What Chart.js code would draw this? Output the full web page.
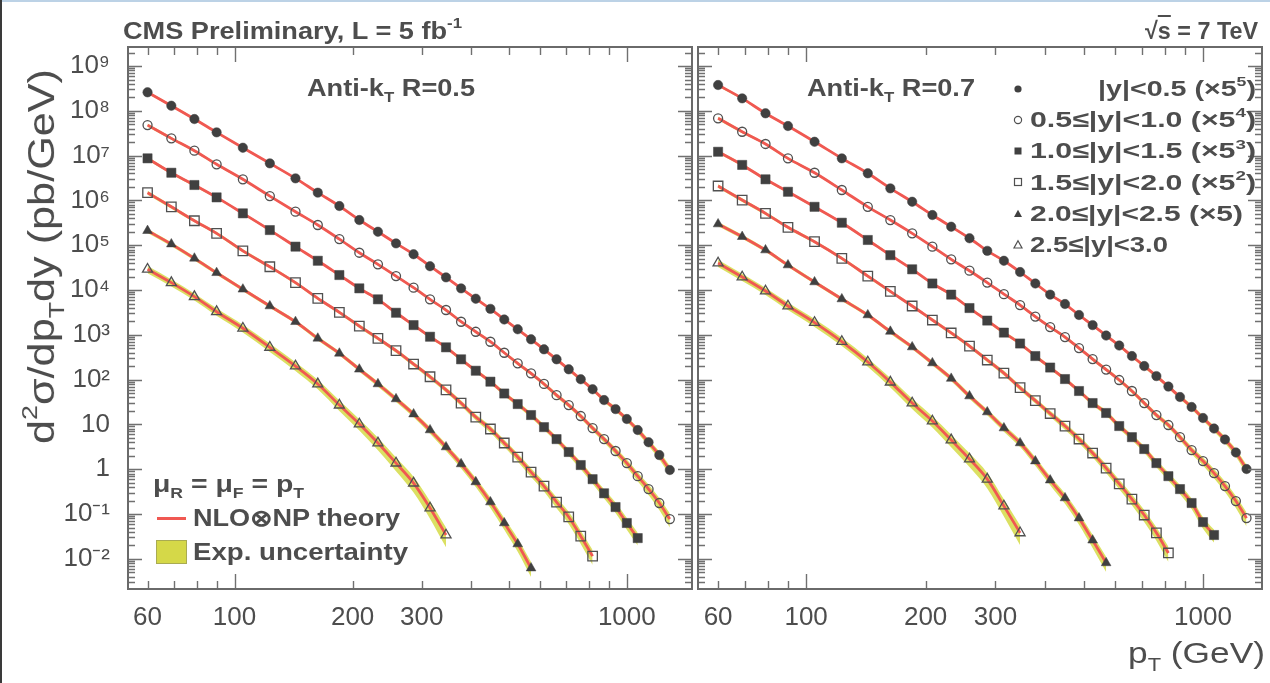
<!DOCTYPE html>
<html>
<head>
<meta charset="utf-8">
<title>Inclusive jet cross section, CMS 7 TeV</title>
<script src="https://cdn.jsdelivr.net/npm/chart.js@4.4.1/dist/chart.umd.min.js"></script>
<style>
  html, body { margin: 0; padding: 0; background: #fff; }
  #page { position: relative; width: 1270px; height: 683px; overflow: hidden; background: #fff;
          font-family: 'Liberation Sans', Arial, Helvetica, sans-serif; color: #4d4d4d; }
  #page canvas { position: absolute; top: 0; z-index: 1; }
  #edgeTop { position: absolute; left: 0; top: 0; width: 1270px; height: 2px; background: #bcd2e6; z-index: 5; }
  #edgeLeft { position: absolute; left: 0; top: 0; width: 2px; height: 683px; background: #3a3a3a; z-index: 5; }
  .txt { position: absolute; white-space: nowrap; line-height: 1; z-index: 3; }
  .b { font-weight: bold; }
  .txt sup, .txt sub { font-size: 0.62em; line-height: 0; position: relative; vertical-align: baseline; }
  .txt sup { top: -0.72em; }
  .txt sub { top: 0.45em; }
  .mark { position: absolute; z-index: 3; }
  #theoryKey { position: absolute; left: 157px; top: 517px; width: 29px; height: 3px; background: #f05852; z-index: 3; }
  #bandKey { position: absolute; left: 156px; top: 540px; width: 29px; height: 22px; background: #d5d848; border: 1px solid #a9ab52; z-index: 3; }
</style>
</head>
<body>
<div id="page">
  <canvas id="left" width="700" height="683" style="left:0"></canvas>
  <canvas id="right" width="580" height="683" style="left:690px"></canvas>

  <div class="txt b fit" data-l="123" data-r="462" data-b="39" data-f="24">CMS Preliminary, L = 5 fb<sup>-1</sup></div>
  <div class="txt b fit" data-l="1145" data-r="1258" data-b="39" data-f="24">√<span style="text-decoration:overline">s</span> = 7 TeV</div>
  <div class="txt b fit" data-l="307" data-r="475" data-b="96" data-f="24">Anti-k<sub>T</sub> R=0.5</div>
  <div class="txt b fit" data-l="807" data-r="975" data-b="96" data-f="24">Anti-k<sub>T</sub> R=0.7</div>

  <div class="txt b fit" data-l="153" data-r="304" data-b="492" data-f="23">μ<sub>R</sub> = μ<sub>F</sub> = p<sub>T</sub></div>
  <div id="theoryKey"></div>
  <div class="txt b fit" data-l="193" data-r="400" data-b="526" data-f="23">NLO⊗NP theory</div>
  <div id="bandKey"></div>
  <div class="txt b fit" data-l="193" data-r="408" data-b="560" data-f="23">Exp. uncertainty</div>

  <div class="txt fit" data-l="1128" data-r="1265" data-b="663" data-f="30">p<sub>T</sub> (GeV)</div>
  <div class="txt" id="yTitle" style="font-size:37px">d<sup>2</sup>σ/dp<sub>T</sub>dy (pb/GeV)</div>

  <div id="legendBox"></div>
  <div id="edgeTop"></div>
  <div id="edgeLeft"></div>
</div>

<script>
// pT bin centres, GeV
const ptBins = [60, 69, 79, 90, 105, 123, 143, 163, 185, 208, 232, 258, 286, 315, 346, 378, 412, 449, 487, 527,
                570, 615, 662, 711, 763, 818, 875, 936, 1000, 1066, 1136, 1210, 1287];

// rapidity bins (legend text)
const rapidityLabels = ['|y|&lt;0.5 (×5<sup>5</sup>)', '0.5≤|y|&lt;1.0 (×5<sup>4</sup>)', '1.0≤|y|&lt;1.5 (×5<sup>3</sup>)',
                        '1.5≤|y|&lt;2.0 (×5<sup>2</sup>)', '2.0≤|y|&lt;2.5 (×5)', '2.5≤|y|&lt;3.0'];

// d2sigma/dpT dy (pb/GeV), scaled as in the legend -- anti-kT R=0.5
const xsecR05_y0 = [2.59e8, 1.30e8, 6.56e7, 3.31e7, 1.50e7, 6.73e6, 3.11e6, 1.49e6, 7.5e5, 3.65e5,
                    2.0e5, 1.10e5, 6.3e4, 3.4e4, 1.92e4, 1.09e4, 6.4e3, 3.8e3, 2.2e3, 1.33e3,
                    794, 475, 284, 170, 102, 61, 35, 22, 13.2, 7.5, 4.0, 2.07, 0.96];
const xsecR05_y1 = [4.8e7, 2.43e7, 1.29e7, 6.4e6, 2.96e6, 1.25e6, 5.6e5, 2.83e5, 1.37e5, 6.8e4,
                    3.75e4, 2.05e4, 1.13e4, 6.2e3, 3.58e3, 1.96e3, 1.17e3, 701, 398, 231,
                    138, 80, 45, 27, 15.4, 8.3, 4.7, 2.55, 1.37, 0.70, 0.36, 0.176, 0.077];
const xsecR05_y2 = [8.7e6, 4.15e6, 2.21e6, 1.17e6, 5.15e5, 2.18e5, 9.3e4, 4.5e4, 2.16e4, 1.09e4,
                    6.2e3, 3.11e3, 1.65e3, 907, 526, 284, 158, 90, 49, 28.5,
                    16.2, 8.7, 4.7, 2.42, 1.24, 0.60, 0.29, 0.143, 0.063, 0.029];
const xsecR05_y3 = [1.49e6, 7.2e5, 3.52e5, 1.84e5, 7.5e4, 3.31e4, 1.46e4, 6.5e3, 3.18e3, 1.57e3,
                    835, 442, 223, 116, 59, 30, 14.6, 7.9, 3.85, 1.87,
                    0.86, 0.42, 0.185, 0.086, 0.032, 0.0115];
const xsecR05_y4 = [2.11e5, 1.06e5, 5.1e4, 2.43e4, 1.04e4, 4.4e3, 1.96e3, 835, 386, 170,
                    80, 37, 17, 7.5, 3.13, 1.31, 0.52, 0.185, 0.063, 0.0214, 0.0062];
const xsecR05_y5 = [2.9e4, 1.46e4, 7.1e3, 3.28e3, 1.40e3, 526, 201, 80, 27, 10.2,
                    3.85, 1.37, 0.49, 0.136, 0.034];

// anti-kT R=0.7
const xsecR07_y0 = [3.77e8, 1.90e8, 8.8e7, 4.58e7, 2.04e7, 8.7e6, 4.03e6, 1.86e6, 9.35e5, 4.72e5,
                    2.59e5, 1.43e5, 7.5e4, 4.5e4, 2.52e4, 1.40e4, 7.9e3, 4.87e3, 2.77e3, 1.65e3,
                    964, 577, 336, 201, 120, 70, 40.9, 24.5, 13.9, 8.1, 4.6, 2.36, 1.01];
const xsecR07_y1 = [6.8e7, 3.41e7, 1.82e7, 8.7e6, 4.15e6, 1.71e6, 7.2e5, 3.65e5, 1.84e5, 9.3e4,
                    4.84e4, 2.70e4, 1.47e4, 8.1e3, 4.62e3, 2.56e3, 1.49e3, 893, 507, 288,
                    168, 98, 55.7, 30, 16.2, 9.7, 5.2, 2.68, 1.52, 0.82, 0.42, 0.195, 0.081];
const xsecR07_y2 = [1.22e7, 6.2e6, 2.96e6, 1.56e6, 7.2e5, 3.18e5, 1.31e5, 6.0e4, 2.90e4, 1.40e4,
                    7.9e3, 3.96e3, 2.08e3, 1.12e3, 640, 336, 186, 103, 55.7, 30,
                    18, 9.2, 5.2, 2.82, 1.37, 0.70, 0.36, 0.176, 0.066, 0.034];
const xsecR07_y3 = [2.10e6, 1.02e6, 5.15e5, 2.51e5, 1.20e5, 5.1e4, 2.05e4, 9.3e3, 4.4e3, 2.14e3,
                    1.10e3, 562, 274, 140, 66, 34, 17.5, 9.2, 4.72, 2.30,
                    1.06, 0.47, 0.216, 0.095, 0.038, 0.0135];
const xsecR07_y4 = [2.97e5, 1.55e5, 7.8e4, 3.61e4, 1.51e4, 6.3e3, 2.77e3, 1.19e3, 534, 235,
                    106, 43, 18.9, 8.3, 3.85, 1.52, 0.57, 0.228, 0.081, 0.026, 0.0081];
const xsecR07_y5 = [4.0e4, 1.95e4, 9.5e3, 4.4e3, 1.88e3, 709, 247, 88, 30, 11.9,
                    4.5, 1.69, 0.60, 0.151, 0.038];

// experimental uncertainty (relative half width of the band)
const expUnc_y0 = [0.07, 0.06, 0.06, 0.05, 0.05, 0.05, 0.05, 0.05, 0.05, 0.05, 0.05, 0.05, 0.05, 0.05, 0.05, 0.06, 0.06,
                   0.06, 0.06, 0.07, 0.07, 0.08, 0.08, 0.09, 0.09, 0.10, 0.11, 0.12, 0.13, 0.15, 0.17, 0.20, 0.24];
const expUnc_y1 = [0.08, 0.07, 0.06, 0.06, 0.06, 0.05, 0.05, 0.05, 0.05, 0.05, 0.06, 0.06, 0.06, 0.06, 0.07, 0.07, 0.07,
                   0.08, 0.08, 0.09, 0.09, 0.10, 0.11, 0.12, 0.13, 0.14, 0.16, 0.18, 0.20, 0.23, 0.26, 0.30, 0.35];
const expUnc_y2 = [0.08, 0.07, 0.07, 0.06, 0.06, 0.06, 0.06, 0.06, 0.06, 0.06, 0.07, 0.07, 0.07, 0.08, 0.08, 0.09,
                   0.09, 0.10, 0.11, 0.12, 0.13, 0.14, 0.15, 0.17, 0.19, 0.21, 0.23, 0.26, 0.29, 0.32];
const expUnc_y3 = [0.10, 0.09, 0.08, 0.08, 0.08, 0.08, 0.08, 0.08, 0.08, 0.09, 0.09, 0.10, 0.11, 0.12, 0.13, 0.14,
                   0.15, 0.17, 0.18, 0.20, 0.22, 0.24, 0.27, 0.30, 0.33, 0.37];
const expUnc_y4 = [0.11, 0.10, 0.10, 0.10, 0.10, 0.10, 0.10, 0.11, 0.11, 0.12, 0.13, 0.14, 0.15, 0.17, 0.19, 0.21,
                   0.23, 0.26, 0.29, 0.33, 0.37];
const expUnc_y5 = [0.18, 0.18, 0.18, 0.19, 0.20, 0.21, 0.22, 0.24, 0.26, 0.28, 0.31, 0.34, 0.38, 0.42, 0.47];

// axis tick labels
const xTickLabels = [60, 100, 200, 300, 1000];
const yTickDecades = [-2, -1, 0, 1, 2, 3, 4, 5, 6, 7, 8, 9];
const yTickText = ['10⁻²', '10⁻¹', '1', '10', '10²', '10³', '10⁴', '10⁵', '10⁶', '10⁷', '10⁸', '10⁹'];

const seriesR05 = [xsecR05_y0, xsecR05_y1, xsecR05_y2, xsecR05_y3, xsecR05_y4, xsecR05_y5];
const seriesR07 = [xsecR07_y0, xsecR07_y1, xsecR07_y2, xsecR07_y3, xsecR07_y4, xsecR07_y5];
const expUnc = [expUnc_y0, expUnc_y1, expUnc_y2, expUnc_y3, expUnc_y4, expUnc_y5];

const FONT = "'Liberation Sans', Arial, sans-serif";
const RED = '#f05852';
const BAND = 'rgba(213, 218, 70, 0.85)';
const MARK = '#404040';
const markers = [
  { style: 'circle', r: 4.7, filled: true },
  { style: 'circle', r: 4.5, filled: false },
  { style: 'rect', r: 6.5, filled: true },
  { style: 'rect', r: 6.7, filled: false },
  { style: 'triangle', r: 5.6, filled: true },
  { style: 'triangle', r: 5.8, filled: false },
];

function buildDatasets(series) {
  const sets = [];
  series.forEach((vals, i) => {
    const unc = expUnc[i];
    const pts = vals.map((v, k) => ({ x: ptBins[k], y: v }));
    sets.push({ data: vals.map((v, k) => ({ x: ptBins[k], y: v * (1 + unc[k]) })),
                borderColor: 'transparent', borderWidth: 0, pointRadius: 0, fill: false,
                cubicInterpolationMode: 'monotone', order: 3 });
    sets.push({ data: vals.map((v, k) => ({ x: ptBins[k], y: v * (1 - unc[k]) })),
                borderColor: 'transparent', borderWidth: 0, pointRadius: 0, fill: '-1',
                backgroundColor: BAND, cubicInterpolationMode: 'monotone', order: 3 });
    sets.push({ data: pts, borderColor: RED, borderWidth: 2.8, pointRadius: 0, fill: false,
                cubicInterpolationMode: 'monotone', order: 2 });
    const m = markers[i];
    sets.push({ data: pts, showLine: false, pointStyle: m.style, pointRadius: m.r,
                pointBackgroundColor: m.filled ? MARK : 'rgba(0,0,0,0)',
                pointBorderColor: m.filled ? MARK : '#505050',
                pointBorderWidth: m.filled ? 0.5 : 1.3, order: 1 });
  });
  return sets;
}

// frame with inward ticks on all four sides, like the ROOT frame
const frameTicks = {
  id: 'frameTicks',
  afterDatasetsDraw(chart) {
    const { ctx, chartArea: a, scales: { x, y } } = chart;
    ctx.save();
    ctx.strokeStyle = '#707070';
    ctx.lineWidth = 1.4;
    ctx.beginPath();
    for (let e = 1; e <= 3; e++) {
      for (let m = 1; m <= 9; m++) {
        const v = m * Math.pow(10, e);
        if (v <= x.min || v >= x.max) continue;
        const px = Math.round(x.getPixelForValue(v)) + 0.5;
        const len = m === 1 ? 15 : 8;
        ctx.moveTo(px, a.bottom); ctx.lineTo(px, a.bottom - len);
        ctx.moveTo(px, a.top); ctx.lineTo(px, a.top + len);
      }
    }
    for (let e = -3; e <= 9; e++) {
      for (let m = 1; m <= 9; m++) {
        const v = m * Math.pow(10, e);
        if (v <= y.min || v >= y.max) continue;
        const py = Math.round(y.getPixelForValue(v)) + 0.5;
        const len = m === 1 ? 14 : 7;
        ctx.moveTo(a.left, py); ctx.lineTo(a.left + len, py);
        ctx.moveTo(a.right, py); ctx.lineTo(a.right - len, py);
      }
    }
    ctx.stroke();
    ctx.lineWidth = 2;
    ctx.strokeStyle = '#6a6a6a';
    ctx.strokeRect(a.left, a.top, a.right - a.left, a.bottom - a.top);
    ctx.restore();
  }
};

function panelOptions(xMin, xMax, showY, padding) {
  return {
    responsive: false,
    animation: false,
    devicePixelRatio: 1,
    events: [],
    layout: { padding },
    plugins: { legend: { display: false }, tooltip: { enabled: false } },
    scales: {
      x: {
        type: 'logarithmic', min: xMin, max: xMax,
        grid: { display: false }, border: { display: false },
        ticks: {
          autoSkip: false, maxRotation: 0, padding: 5, color: '#4d4d4d',
          font: { family: FONT, size: 26 },
          callback: (v) => xTickLabels.includes(v) ? String(v) : ''
        },
        afterFit: (s) => { s.height = 94; }
      },
      y: {
        type: 'logarithmic', min: 2.12e-3, max: 2.66e9,
        grid: { display: false }, border: { display: false },
        ticks: {
          display: showY, autoSkip: false, padding: 10, color: '#4d4d4d',
          font: { family: FONT, size: 26 },
          callback: (v) => {
            const e = Math.log10(v);
            const r = Math.round(e);
            if (Math.abs(e - r) > 1e-6) return '';
            const i = yTickDecades.indexOf(r);
            return i < 0 ? '' : yTickText[i];
          }
        },
        afterFit: (s) => { s.width = showY ? 128 : 0; }
      }
    }
  };
}

new Chart(document.getElementById('left'), {
  type: 'line',
  data: { datasets: buildDatasets(seriesR05) },
  options: panelOptions(53.5, 1466, true, { left: 0, top: 47, right: 2, bottom: 0 }),
  plugins: [frameTicks]
});

new Chart(document.getElementById('right'), {
  type: 'line',
  data: { datasets: buildDatasets(seriesR07) },
  options: panelOptions(53.4, 1408, false, { left: 8, top: 47, right: 3, bottom: 0 }),
  plugins: [frameTicks]
});

// legend of the right panel
const legendBox = document.getElementById('legendBox');
const rowExtent = [[1098, 1256], [1030, 1256], [1030, 1256], [1030, 1256], [1030, 1243], [1030, 1168]];
function markerSvg(m) {
  const fill = m.filled ? MARK : 'none';
  const stroke = m.filled ? 'none' : '#505050';
  let shape;
  if (m.style === 'circle') shape = `<circle cx="8" cy="8" r="3.6" fill="${fill}" stroke="${stroke}" stroke-width="1.2"/>`;
  else if (m.style === 'rect') shape = `<rect x="4.5" y="4.5" width="7" height="7" fill="${fill}" stroke="${stroke}" stroke-width="1.2"/>`;
  else shape = `<polygon points="8,3.8 12,11 4,11" fill="${fill}" stroke="${stroke}" stroke-width="1.2"/>`;
  return `<svg width="16" height="16">${shape}</svg>`;
}
rapidityLabels.forEach((label, i) => {
  const base = 96.5 + i * 31.3;
  const row = document.createElement('div');
  row.className = 'txt b fit';
  row.dataset.l = rowExtent[i][0];
  row.dataset.r = rowExtent[i][1];
  row.dataset.b = base;
  row.dataset.f = 22;
  row.innerHTML = label;
  legendBox.appendChild(row);
  const mk = document.createElement('div');
  mk.className = 'mark';
  mk.style.left = '1010px';
  mk.style.top = (base - 16) + 'px';
  mk.innerHTML = markerSvg(markers[i]);
  legendBox.appendChild(mk);
});

// place and stretch texts to the extents seen in the figure
document.querySelectorAll('.fit').forEach((el) => {
  const f = +el.dataset.f;
  el.style.fontSize = f + 'px';
  el.style.left = el.dataset.l + 'px';
  el.style.top = (+el.dataset.b - 0.8465 * f) + 'px';
  const w = el.getBoundingClientRect().width;
  el.style.transformOrigin = '0 0';
  el.style.transform = `scaleX(${(el.dataset.r - el.dataset.l) / w})`;
});

const yTitle = document.getElementById('yTitle');
const yw = yTitle.getBoundingClientRect().width;
yTitle.style.left = (42 - yw / 2) + 'px';
yTitle.style.top = (256 - 37 / 2) + 'px';
yTitle.style.transformOrigin = '50% 50%';
yTitle.style.transform = `rotate(-90deg) scaleX(${375 / yw})`;
</script>
</body>
</html>
